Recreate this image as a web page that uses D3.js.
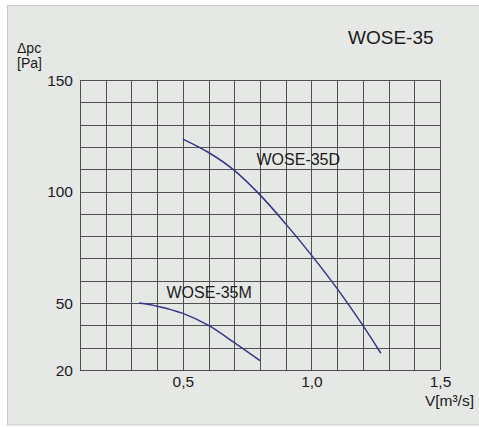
<!DOCTYPE html>
<html><head><meta charset="utf-8">
<script src="https://cdn.jsdelivr.net/npm/d3@7"></script>
<style>
html,body{margin:0;padding:0;background:#fff;}
text{font-family:"Liberation Sans",Arial,sans-serif;fill:#1a1a1a;}
</style></head>
<body>
<script>
// Data
const title = "WOSE-35";
const xTicks = [0.5, 1.0, 1.5];
const xTickLabels = ["0,5", "1,0", "1,5"];
const yTicks = [20, 50, 100, 150];
const seriesNames = ["WOSE-35D", "WOSE-35M"];
const flowD = [0.5, 0.6, 0.7, 0.8, 0.9, 1.0, 1.1, 1.2, 1.27];
const pressD = [123.5, 117.5, 109.5, 98.5, 85.5, 71.5, 56.5, 40, 27.5];
const flowM = [0.33, 0.4, 0.5, 0.6, 0.7, 0.8];
const pressM = [50, 48.6, 45.4, 40, 32.3, 24.2];

const W = 479, H = 427;
const svg = d3.select("body").append("svg").attr("width", W).attr("height", H);

// frame
svg.append("rect").attr("x", 7.5).attr("y", 5.5).attr("width", W).attr("height", 419.5)
  .attr("fill", "#e6e8e6").attr("stroke", "#c9cbc9").attr("stroke-width", 1);

const x = d3.scaleLinear().domain([0.1, 1.5]).range([80, 440]);
const y = d3.scaleLinear().domain([20, 150]).range([370, 80]);

const g = svg.append("g");
// grid
const gridColor = "#505050";
g.selectAll("line.v").data(d3.range(0.1, 1.5001, 0.1)).join("line")
  .attr("x1", d => Math.round(x(d)) + 0.5).attr("x2", d => Math.round(x(d)) + 0.5)
  .attr("y1", y(150)).attr("y2", y(20)).attr("stroke", gridColor).attr("stroke-width", 1);
g.selectAll("line.h").data(d3.range(20, 150.001, 10)).join("line")
  .attr("y1", d => Math.round(y(d)) + 0.5).attr("y2", d => Math.round(y(d)) + 0.5)
  .attr("x1", x(0.1)).attr("x2", x(1.5)).attr("stroke", gridColor).attr("stroke-width", 1);

// y tick labels
g.selectAll("text.yt").data(yTicks).join("text")
  .attr("x", 73).attr("y", d => y(d)).attr("dy", "0.36em")
  .attr("text-anchor", "end").attr("font-size", 15.5).text(d => d);
// x tick labels
g.selectAll("text.xt").data(xTicks).join("text")
  .attr("x", (d, i) => x(d) + 0.5).attr("y", 387)
  .attr("text-anchor", "middle").attr("font-size", 15.5).text((d, i) => xTickLabels[i]);

// axis titles
svg.append("text").attr("x", 17).attr("y", 53).attr("font-size", 14).text("\u0394pc");
svg.append("text").attr("x", 17).attr("y", 68).attr("font-size", 14).text("[Pa]");
svg.append("text").attr("x", 474).attr("y", 406).attr("text-anchor", "end").attr("font-size", 15.5).text("V[m\u00B3/s]");

// title
svg.append("text").attr("x", 348).attr("y", 43.5).attr("font-size", 19).text(title);

// curves
const line = d3.line().x(d => x(d[0])).y(d => y(d[1])).curve(d3.curveCatmullRom.alpha(0.5));
const dataD = flowD.map((f, i) => [f, pressD[i]]);
const dataM = flowM.map((f, i) => [f, pressM[i]]);
[dataD, dataM].forEach(d => {
  svg.append("path").attr("d", line(d)).attr("fill", "none")
    .attr("stroke", "#35358c").attr("stroke-width", 1.5);
});

// series labels
svg.append("text").attr("x", 256.5).attr("y", 165).attr("font-size", 16).text(seriesNames[0]);
svg.append("text").attr("x", 166.5).attr("y", 297.5).attr("font-size", 16).text(seriesNames[1]);
</script>
</body></html>
